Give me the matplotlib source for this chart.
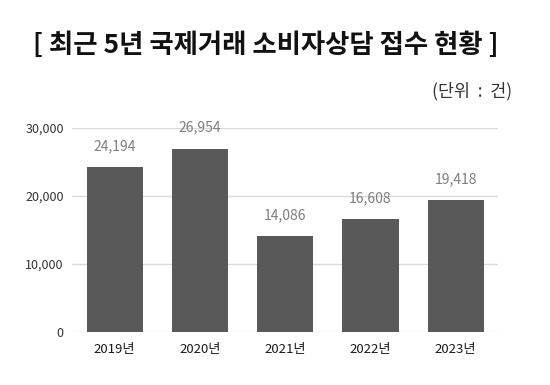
import matplotlib.pyplot as plt

plt.rcParams['font.family'] = ['Noto Sans CJK KR', 'DejaVu Sans']

years = ['2019년', '2020년', '2021년', '2022년', '2023년']
counts = [24194, 26954, 14086, 16608, 19418]
yticks = [0, 10000, 20000, 30000]

fig = plt.figure(figsize=(5.5, 3.85), dpi=100)
ax = fig.add_axes([0.131, 0.138, 0.775, 0.530])

bars = ax.bar(range(len(years)), counts, width=0.66, color='#595959', zorder=3)
for i, v in enumerate(counts):
    ax.annotate(f'{v:,}', (i, v), xytext=(0, 10), textcoords='offset points',
                ha='center', va='bottom', fontsize=10, color='#7f7f7f',
                annotation_clip=False)

ax.set_xlim(-0.5, len(years) - 0.5)
ax.set_ylim(0, 30000)
ax.set_yticks(yticks)
ax.set_yticklabels([f'{t:,}' for t in yticks], fontsize=9, color='#333333')
ax.set_xticks(range(len(years)))
ax.set_xticklabels(years, fontsize=9.5, color='#1a1a1a')
ax.tick_params(length=0, pad=8)
ax.tick_params(axis='y', pad=6)
ax.grid(axis='y', color='#d9d9d9', linewidth=1, zorder=0)
ax.set_axisbelow(True)
for s in ax.spines.values():
    s.set_visible(False)

fig.text(0.483, 0.882, '[ 최근 5년 국제거래 소비자상담 접수 현황 ]', ha='center', va='center',
         fontsize=19, fontweight='bold', color='#111111')
fig.text(0.932, 0.762, '(단위  :  건)', ha='right', va='center', fontsize=12.5, color='#333333')

fig.savefig('out.png', dpi=100, facecolor='white')
